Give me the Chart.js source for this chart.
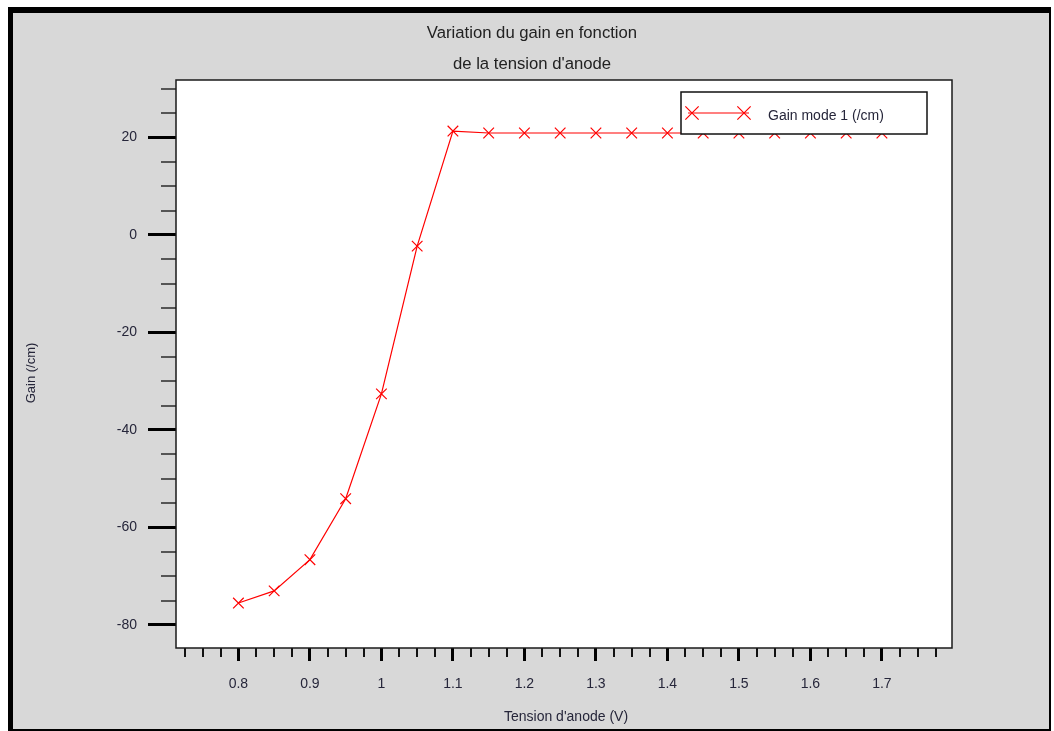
<!DOCTYPE html>
<html>
<head>
<meta charset="utf-8">
<script src="https://cdn.jsdelivr.net/npm/chart.js@4/dist/chart.umd.min.js"></script>
<style>
html,body{margin:0;padding:0;background:#fff;}
#wrap{width:1054px;height:731px;position:relative;}
canvas{display:block;}
</style>
</head>
<body>
<div id="wrap"><canvas id="c" width="1054" height="731"></canvas></div>
<script>
// ---- data ----
const titleLines = ["Variation du gain en fonction", "de la tension d'anode"];
const xAxisTitle = "Tension d'anode (V)";
const yAxisTitle = "Gain (/cm)";
const seriesName = "Gain mode 1 (/cm)";

const tensions = [0.8, 0.85, 0.9, 0.95, 1.0, 1.05, 1.1, 1.15, 1.2, 1.25, 1.3, 1.35, 1.4, 1.45, 1.5, 1.55, 1.6, 1.65, 1.7];
const gains    = [-75.5, -73.0, -66.6, -54.1, -32.6, -2.3, 21.3, 20.9, 20.9, 20.9, 20.9, 20.9, 20.9, 20.9, 20.9, 20.9, 20.9, 20.9, 20.9];

const xTickValues = [0.8, 0.9, 1.0, 1.1, 1.2, 1.3, 1.4, 1.5, 1.6, 1.7];
const xTickLabels = ["0.8", "0.9", "1", "1.1", "1.2", "1.3", "1.4", "1.5", "1.6", "1.7"];
const yTickValues = [-80, -60, -40, -20, 0, 20];
const yTickLabels = ["-80", "-60", "-40", "-20", "0", "20"];
const xRange = [0.7127, 1.798];
const yRange = [-84.72, 31.77];
const xMinorStep = 0.025;
const yMinorStep = 5;

// ---- drawing ----
const FONT = "'Liberation Sans', Arial, sans-serif";
const TEXT = '#26263a';

function drawCross(ctx, x, y, r) {
  const d = r * Math.SQRT1_2;
  ctx.beginPath();
  ctx.moveTo(x - d, y - d); ctx.lineTo(x + d, y + d);
  ctx.moveTo(x - d, y + d); ctx.lineTo(x + d, y - d);
  ctx.stroke();
}

const framePlugin = {
  id: 'frame',
  beforeDraw(chart) {
    const ctx = chart.ctx, a = chart.chartArea;
    ctx.save();
    ctx.fillStyle = '#ffffff';
    ctx.fillRect(0, 0, chart.width, chart.height);
    ctx.fillStyle = '#000000';
    ctx.fillRect(8, 7, 1043, 724);
    ctx.fillStyle = '#d8d8d8';
    ctx.fillRect(13, 13, 1036, 716);
    ctx.fillStyle = '#ffffff';
    ctx.fillRect(a.left, a.top, a.right - a.left, a.bottom - a.top);
    ctx.restore();
  },
  afterDatasetsDraw(chart) {
    const ctx = chart.ctx, a = chart.chartArea;
    const xs = chart.scales.x, ys = chart.scales.y;
    ctx.save();
    // minor ticks x
    ctx.strokeStyle = '#111';
    ctx.lineWidth = 2;
    for (let v = Math.ceil(xRange[0] / xMinorStep) * xMinorStep; v < xRange[1]; v += xMinorStep) {
      const isMajor = xTickValues.some(t => Math.abs(t - v) < 1e-6);
      if (isMajor) continue;
      const px = Math.round(xs.getPixelForValue(v));
      ctx.beginPath(); ctx.moveTo(px, a.bottom); ctx.lineTo(px, a.bottom + 9); ctx.stroke();
    }
    // minor ticks y
    ctx.strokeStyle = '#555';
    for (let v = Math.ceil(yRange[0] / yMinorStep) * yMinorStep; v < yRange[1]; v += yMinorStep) {
      const isMajor = yTickValues.some(t => Math.abs(t - v) < 1e-6);
      if (isMajor) continue;
      const py = Math.round(ys.getPixelForValue(v));
      ctx.beginPath(); ctx.moveTo(a.left - 15, py); ctx.lineTo(a.left, py); ctx.stroke();
    }
    // plot border
    ctx.strokeStyle = '#1a1a1a';
    ctx.lineWidth = 1.5;
    ctx.strokeRect(a.left, a.top, a.right - a.left, a.bottom - a.top);

    // titles
    ctx.fillStyle = '#222';
    ctx.textAlign = 'center';
    ctx.textBaseline = 'middle';
    ctx.font = '16.7px ' + FONT;
    ctx.fillText(titleLines[0], 532, 33.5);
    ctx.fillText(titleLines[1], 532, 64);
    // x axis title
    ctx.font = '14px ' + FONT;
    ctx.fillStyle = TEXT;
    ctx.fillText(xAxisTitle, 566, 717);
    // y axis title
    ctx.save();
    ctx.translate(31, 373);
    ctx.rotate(-Math.PI / 2);
    ctx.font = '13px ' + FONT;
    ctx.fillText(yAxisTitle, 0, 0);
    ctx.restore();

    // legend
    const lx = 681, ly = 92, lw = 246, lh = 42;
    ctx.fillStyle = '#fff';
    ctx.fillRect(lx, ly, lw, lh);
    ctx.strokeStyle = '#111';
    ctx.lineWidth = 1.5;
    ctx.strokeRect(lx, ly, lw, lh);
    ctx.strokeStyle = '#ff0000';
    ctx.lineWidth = 1.2;
    ctx.beginPath(); ctx.moveTo(688, 113); ctx.lineTo(749, 113); ctx.stroke();
    ctx.lineWidth = 1.2;
    drawCross(ctx, 692, 113, 9.4);
    drawCross(ctx, 744, 113, 9.4);
    ctx.fillStyle = TEXT;
    ctx.textAlign = 'left';
    ctx.font = '14px ' + FONT;
    ctx.fillText(seriesName, 768, 116.5);
    ctx.restore();
  }
};

const tickFont = { family: FONT, size: 14 };

new Chart(document.getElementById('c').getContext('2d'), {
  type: 'scatter',
  data: {
    datasets: [{
      label: seriesName,
      data: tensions.map((x, i) => ({ x: x, y: gains[i] })),
      showLine: true,
      borderColor: '#ff0000',
      borderWidth: 1.2,
      pointStyle: 'crossRot',
      pointRadius: 7.5,
      pointBorderColor: '#ff0000',
      pointBackgroundColor: '#ff0000',
      pointBorderWidth: 1.2,
      tension: 0
    }]
  },
  options: {
    responsive: false,
    animation: false,
    devicePixelRatio: 1,
    layout: { padding: { top: 80, right: 102, bottom: 0, left: 0 } },
    plugins: { legend: { display: false }, title: { display: false }, tooltip: { enabled: false } },
    scales: {
      x: {
        type: 'linear',
        min: xRange[0], max: xRange[1],
        afterFit(s) { s.height = 83; },
        afterBuildTicks(s) { s.ticks = xTickValues.map(v => ({ value: v })); },
        grid: { drawOnChartArea: false, drawTicks: true, tickLength: 13, tickWidth: 3, tickColor: '#000' },
        border: { display: false },
        ticks: {
          font: tickFont, color: TEXT, padding: 15, maxRotation: 0, autoSkip: false,
          callback: (v, i) => xTickLabels[i]
        }
      },
      y: {
        type: 'linear',
        min: yRange[0], max: yRange[1],
        afterFit(s) { s.width = 176; },
        afterBuildTicks(s) { s.ticks = yTickValues.map(v => ({ value: v })); },
        grid: { drawOnChartArea: false, drawTicks: true, tickLength: 28, tickWidth: 3, tickColor: '#000' },
        border: { display: false },
        ticks: {
          font: tickFont, color: TEXT, padding: 11, autoSkip: false,
          callback: (v, i) => yTickLabels[i]
        }
      }
    }
  },
  plugins: [framePlugin]
});
</script>
</body>
</html>
